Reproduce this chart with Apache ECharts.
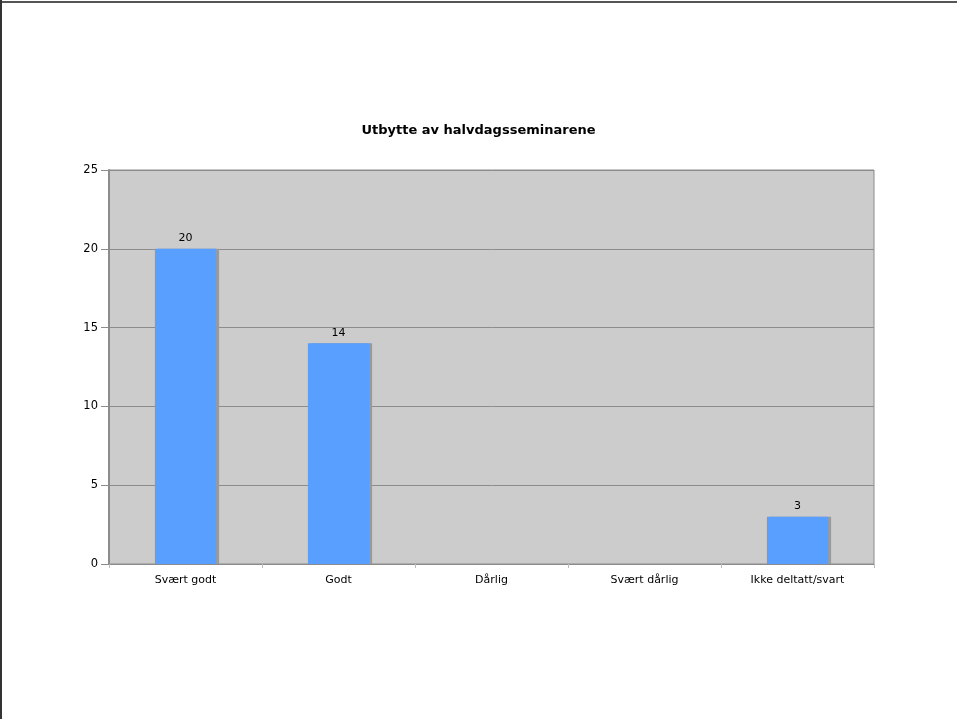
<!DOCTYPE html>
<html><head><meta charset="utf-8">
<script src="https://cdn.jsdelivr.net/npm/echarts@6/dist/echarts.min.js"></script>
<style>html,body{margin:0;padding:0;background:#fff}#c{width:957px;height:719px}</style>
</head><body><div id="c"></div>
<script>
const categories = ['Svært godt', 'Godt', 'Dårlig', 'Svært dårlig', 'Ikke deltatt/svart'];
const values = [20, 14, null, null, 3];
const yTicks = [0, 5, 10, 15, 20, 25];
const titleText = 'Utbytte av halvdagsseminarene';

const chart = echarts.init(document.getElementById('c'), null, {renderer: 'canvas'});
chart.setOption({
  backgroundColor: '#ffffff',
  animation: false,
  title: {
    text: titleText, left: 'center', top: 119,
    textStyle: {fontFamily: 'DejaVu Sans', fontSize: 13, fontWeight: 'bold', color: '#000'}
  },
  graphic: [
    {type: 'line', shape: {x1: 0, y1: 2, x2: 957, y2: 2}, style: {stroke: '#555', lineWidth: 2}},
    {type: 'line', shape: {x1: 1, y1: 0, x2: 1, y2: 719}, style: {stroke: '#333', lineWidth: 2}}
  ],
  grid: {left: 109, right: 83, top: 170, bottom: 155, show: true, backgroundColor: '#cccccc', borderColor: '#8c8c8c', borderWidth: 1},
  xAxis: {
    type: 'category', data: categories,
    axisLine: {lineStyle: {color: '#8c8c8c', width: 1}},
    axisTick: {show: true, length: 4, lineStyle: {color: '#bbbbbb'}},
    axisLabel: {fontFamily: 'DejaVu Sans', fontSize: 11, color: '#000', margin: 11}
  },
  yAxis: {
    type: 'value', min: 0, max: 25, interval: 5,
    axisLine: {show: true, lineStyle: {color: '#8c8c8c', width: 2}},
    axisTick: {show: true, length: 8, lineStyle: {color: '#8c8c8c'}},
    splitLine: {lineStyle: {color: '#8c8c8c', width: 1}},
    axisLabel: {fontFamily: 'DejaVu Sans', fontSize: 11.5, color: '#000', margin: 11,
      formatter: v => yTicks.includes(v) ? String(v) : ''}
  },
  series: [{
    type: 'bar', data: values, barWidth: '40%',
    itemStyle: {color: '#589fff', shadowColor: '#9a9a9a', shadowOffsetX: 3, shadowOffsetY: 0, shadowBlur: 0},
    label: {show: true, position: 'top', distance: 5, fontFamily: 'DejaVu Sans', fontSize: 11, color: '#000'}
  }]
});
</script></body></html>
